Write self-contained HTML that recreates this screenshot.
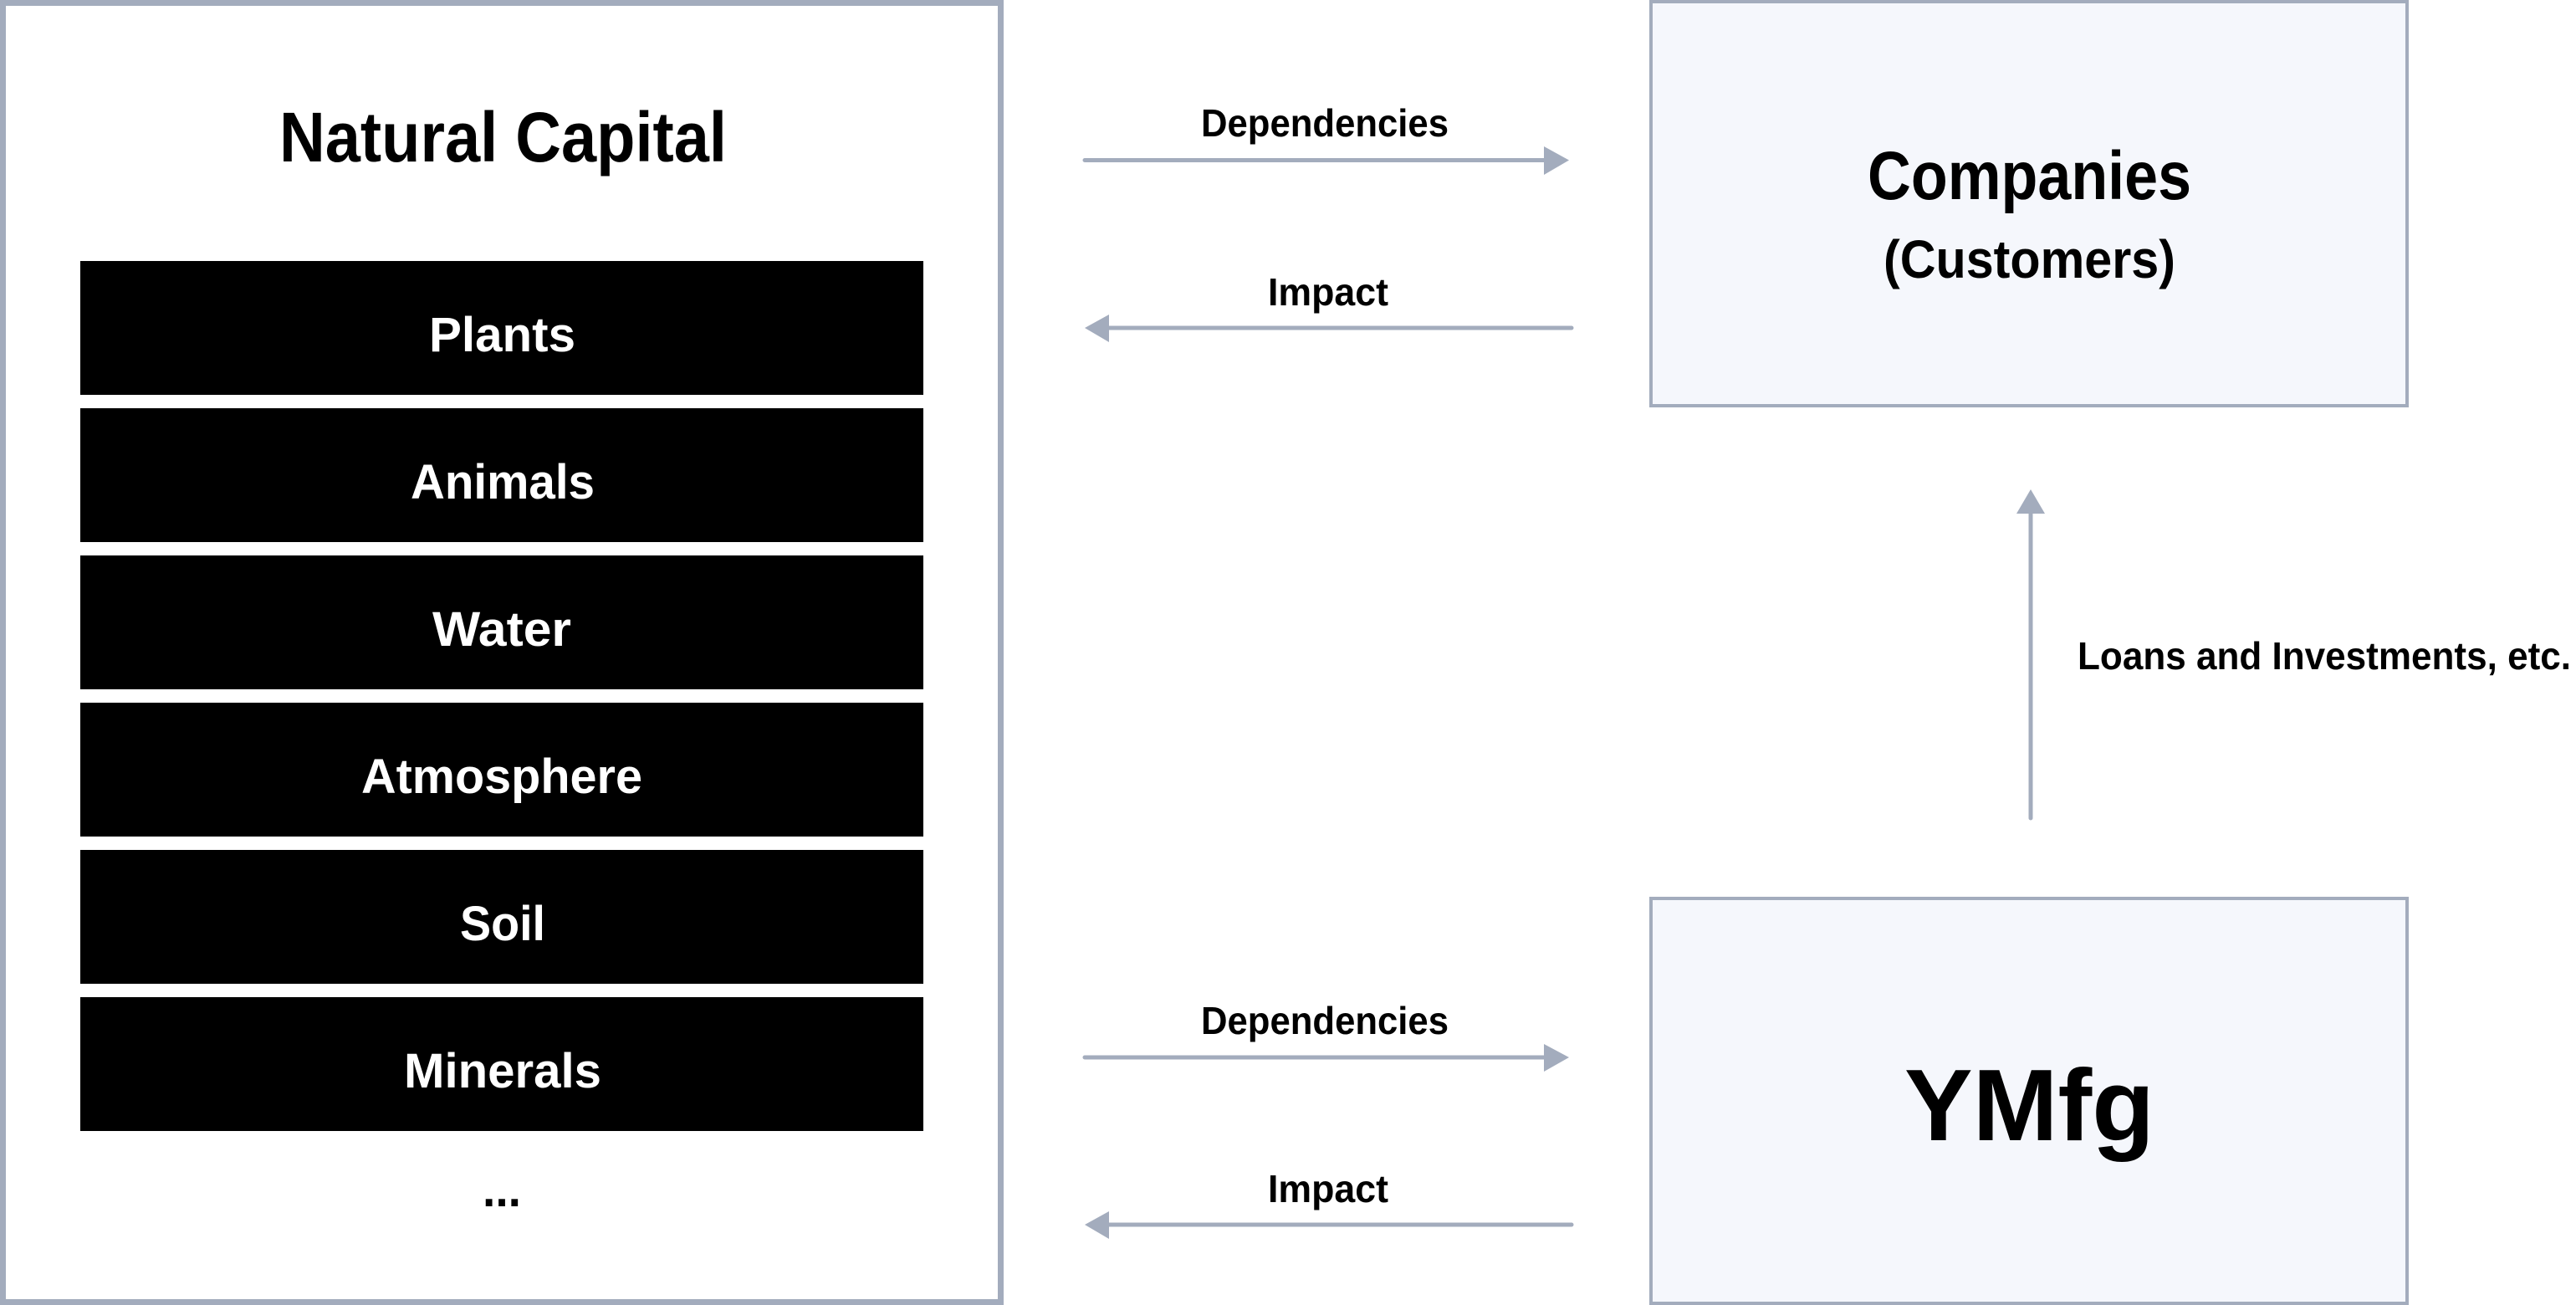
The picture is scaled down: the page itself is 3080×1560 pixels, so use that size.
<!DOCTYPE html>
<html><head><meta charset="utf-8"><style>
html,body{margin:0;padding:0;background:#fff;}
svg{display:block;}
text{font-family:"Liberation Sans",sans-serif;font-weight:bold;}
</style></head><body>
<svg width="3080" height="1560" viewBox="0 0 3080 1560" xmlns="http://www.w3.org/2000/svg">
<rect x="3.5" y="3.5" width="1193" height="1553" fill="#fff" stroke="#a3acbd" stroke-width="7"/>
<text x="334" y="193" font-size="84" textLength="535" lengthAdjust="spacingAndGlyphs" fill="#000">Natural Capital</text>
<g fill="#000">
<rect x="96" y="312" width="1008" height="160"/>
<rect x="96" y="488" width="1008" height="160"/>
<rect x="96" y="664" width="1008" height="160"/>
<rect x="96" y="840" width="1008" height="160"/>
<rect x="96" y="1016" width="1008" height="160"/>
<rect x="96" y="1192" width="1008" height="160"/>
</g>
<g fill="#fff" font-size="58">
<text x="513" y="420" textLength="175" lengthAdjust="spacingAndGlyphs">Plants</text>
<text x="491" y="596" textLength="220" lengthAdjust="spacingAndGlyphs">Animals</text>
<text x="517" y="772" textLength="166" lengthAdjust="spacingAndGlyphs">Water</text>
<text x="432" y="948" textLength="336" lengthAdjust="spacingAndGlyphs">Atmosphere</text>
<text x="550" y="1124" textLength="102" lengthAdjust="spacingAndGlyphs">Soil</text>
<text x="483" y="1300" textLength="236" lengthAdjust="spacingAndGlyphs">Minerals</text>
</g>
<text x="577" y="1442" font-size="58" textLength="46" lengthAdjust="spacingAndGlyphs">...</text>

<g stroke="#a3acbd" stroke-width="5" stroke-linecap="round" fill="none">
<line x1="1297" y1="191.5" x2="1850" y2="191.5"/>
<line x1="1322" y1="392" x2="1879" y2="392"/>
<line x1="1297" y1="1264" x2="1850" y2="1264"/>
<line x1="1322" y1="1464" x2="1879" y2="1464"/>
<line x1="2428" y1="610" x2="2428" y2="978"/>
</g>
<g fill="#a3acbd">
<polygon points="1846,175 1876,191.5 1846,209"/>
<polygon points="1326,376 1297,392 1326,409"/>
<polygon points="1846,1248 1876,1264 1846,1281"/>
<polygon points="1326,1448 1297,1464 1326,1481"/>
<polygon points="2411,614 2428,585 2445,614"/>
</g>
<g font-size="46" fill="#000">
<text x="1436" y="163" textLength="296" lengthAdjust="spacingAndGlyphs">Dependencies</text>
<text x="1516" y="365" textLength="144" lengthAdjust="spacingAndGlyphs">Impact</text>
<text x="1436" y="1236" textLength="296" lengthAdjust="spacingAndGlyphs">Dependencies</text>
<text x="1516" y="1437" textLength="144" lengthAdjust="spacingAndGlyphs">Impact</text>
<text x="2484" y="800" textLength="590" lengthAdjust="spacingAndGlyphs">Loans and Investments, etc.</text>
</g>

<rect x="1974" y="2" width="904" height="483" fill="#f5f7fc" stroke="#a3acbd" stroke-width="4"/>
<text x="2233" y="238" font-size="82" textLength="387" lengthAdjust="spacingAndGlyphs">Companies</text>
<text x="2252" y="332" font-size="64" textLength="349" lengthAdjust="spacingAndGlyphs">(Customers)</text>

<rect x="1974" y="1074" width="904" height="484" fill="#f5f7fc" stroke="#a3acbd" stroke-width="4"/>
<text x="2277" y="1363" font-size="122" font-weight="900" textLength="299" lengthAdjust="spacingAndGlyphs">YMfg</text>
</svg>
</body></html>
